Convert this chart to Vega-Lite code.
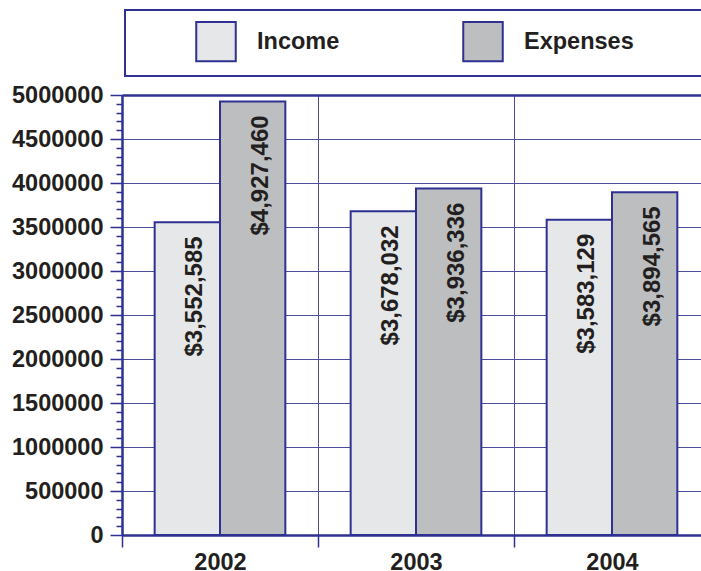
{
  "$schema": "https://vega.github.io/schema/vega-lite/v6.json",
  "width": 588,
  "height": 440,
  "autosize": {"type": "none"},
  "padding": {"left": 122, "top": 95, "right": -9, "bottom": 36},
  "background": "white",
  "config": {"font": "Liberation Sans", "view": {"stroke": null}},
  "data": {
    "values": [
      {"year": "2002", "type": "Income", "value": 3552585},
      {"year": "2002", "type": "Expenses", "value": 4927460},
      {"year": "2003", "type": "Income", "value": 3678032},
      {"year": "2003", "type": "Expenses", "value": 3936336},
      {"year": "2004", "type": "Income", "value": 3583129},
      {"year": "2004", "type": "Expenses", "value": 3894565}
    ]
  },
  "encoding": {
    "x": {
      "field": "year",
      "type": "nominal",
      "scale": {"paddingInner": 0, "paddingOuter": 0},
      "axis": {
        "title": null,
        "labelAngle": 0,
        "tickBand": "extent",
        "grid": true,
        "gridColor": "#4b4d9c",
        "gridWidth": 1,
        "domainColor": "#2e3092",
        "domainWidth": 2.5,
        "tickColor": "#2e3092",
        "tickWidth": 1.5,
        "tickSize": 12,
        "labelFont": "Liberation Sans",
        "labelFontSize": 23.5,
        "labelFontWeight": "bold",
        "labelColor": "#231f20",
        "labelPadding": 3
      }
    },
    "xOffset": {
      "field": "type",
      "type": "nominal",
      "sort": ["Income", "Expenses"],
      "scale": {"paddingInner": 0, "paddingOuter": 0.5}
    },
    "y": {
      "field": "value",
      "type": "quantitative",
      "scale": {"domain": [0, 5000000], "nice": false},
      "axis": {
        "title": null,
        "tickCount": 50,
        "labelExpr": "datum.value % 500000 === 0 ? format(datum.value, 'd') : ''",
        "labelOverlap": false,
        "grid": true,
        "gridColor": {"condition": {"test": "datum.value === 5000000", "value": "#2e3092"}, "value": "#4b4d9c"},
        "gridWidth": {"condition": {"test": "datum.value === 5000000", "value": 2.5}, "value": 1},
        "gridOpacity": {"condition": {"test": "datum.value % 500000 === 0", "value": 1}, "value": 0},
        "tickSize": {"condition": {"test": "datum.value % 500000 === 0", "value": 12}, "value": 6},
        "tickColor": "#2e3092",
        "tickWidth": 1.5,
        "domainColor": "#2e3092",
        "domainWidth": 2.5,
        "labelPadding": 7,
        "labelFont": "Liberation Sans",
        "labelFontSize": 23.5,
        "labelFontWeight": "bold",
        "labelColor": "#231f20"
      }
    }
  },
  "layer": [
    {
      "mark": {"type": "bar", "stroke": "#2e3092", "strokeWidth": 2},
      "encoding": {
        "color": {
          "field": "type",
          "type": "nominal",
          "scale": {"domain": ["Income", "Expenses"], "range": ["#e6e7e8", "#bcbec0"]},
          "legend": {
            "title": null,
            "orient": "none",
            "legendX": 3,
            "legendY": -85,
            "direction": "horizontal",
            "symbolType": "square",
            "symbolSize": 1560,
            "symbolStrokeColor": "#2e3092",
            "symbolStrokeWidth": 2,
            "symbolOpacity": 1,
            "symbolOffset": 59.5,
            "labelOffset": 20,
            "columnPadding": 63,
            "padding": 10.5,
            "strokeColor": "#2e3092",
            "fillColor": "white",
            "labelFont": "Liberation Sans",
            "labelFontSize": 23.5,
            "labelFontWeight": "bold",
            "labelColor": "#231f20",
            "labelLimit": 600,
            "labelExpr": "datum.label === 'Expenses' ? datum.label + '\u00a0\u00a0\u00a0\u00a0\u00a0\u00a0\u00a0\u00a0\u00a0\u00a0\u00a0\u00a0\u200b' : datum.label",
            "encode": {"legend": {"update": {"strokeWidth": {"value": 2}}}}
          }
        }
      }
    },
    {
      "mark": {
        "type": "text",
        "angle": 270,
        "align": "right",
        "baseline": "middle",
        "dx": -14,
        "dy": 8,
        "fontSize": 24,
        "fontWeight": "bold",
        "color": "#231f20"
      },
      "encoding": {
        "text": {"field": "value", "type": "quantitative", "format": "$,.0f"}
      }
    }
  ]
}
